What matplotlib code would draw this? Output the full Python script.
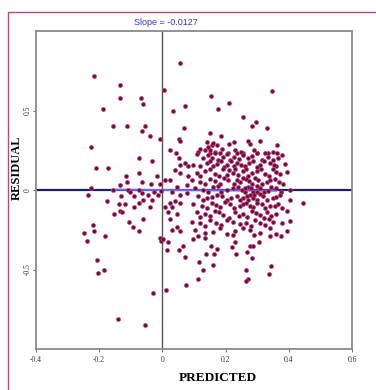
import numpy as np
import matplotlib
matplotlib.use("Agg")
import matplotlib.pyplot as plt
from matplotlib.patches import Rectangle

# scattered points left of the main cluster (predicted, residual)
left_points = [
    (-0.215, 0.72), (-0.135, 0.66), (-0.135, 0.58), (-0.069, 0.58), (-0.061, 0.54),
    (-0.189, 0.51), (-0.156, 0.40), (-0.112, 0.40), (-0.054, 0.40), (-0.065, 0.37),
    (-0.038, 0.34), (-0.009, 0.32), (-0.225, 0.27), (-0.073, 0.20), (-0.034, 0.18),
    (-0.211, 0.14), (-0.173, 0.14), (-0.073, 0.11), (-0.115, 0.09), (-0.016, 0.09),
    (-0.113, 0.05), (-0.064, 0.05), (-0.134, 0.03), (-0.036, 0.04), (-0.008, 0.04),
    (-0.225, 0.01), (-0.155, 0.00), (-0.110, 0.00), (-0.073, 0.00), (-0.103, -0.01),
    (-0.004, -0.005), (-0.235, -0.03), (-0.066, -0.02), (-0.045, -0.03), (-0.027, -0.01),
    (-0.131, -0.04), (-0.089, -0.04), (-0.013, -0.03), (-0.176, -0.07), (-0.060, -0.06),
    (-0.075, -0.08), (-0.034, -0.06), (-0.137, -0.09), (-0.118, -0.09), (-0.134, -0.13),
    (-0.127, -0.14), (-0.152, -0.15), (-0.089, -0.11), (-0.039, -0.11), (-0.060, -0.18),
    (-0.106, -0.20), (-0.092, -0.23), (-0.073, -0.26), (-0.219, -0.22), (-0.215, -0.26),
    (-0.247, -0.27), (-0.183, -0.29), (-0.008, -0.30), (-0.238, -0.32), (-0.208, -0.44),
    (-0.203, -0.52), (-0.185, -0.50), (-0.005, -0.32), (-0.029, -0.65), (-0.140, -0.81),
    (-0.055, -0.85),
]

# points just right of zero
mid_points = [
    (0.056, 0.80), (0.006, 0.63), (0.035, 0.50), (0.072, 0.53), (0.067, 0.39),
    (0.052, 0.32), (0.056, 0.31), (0.025, 0.25), (0.043, 0.23), (0.053, 0.20),
    (0.056, 0.16), (0.072, 0.17), (0.082, 0.15), (0.040, 0.125), (0.056, 0.11),
    (0.082, 0.09), (0.024, 0.06), (0.008, 0.06), (0.045, 0.02), (0.077, 0.03),
    (0.029, -0.01), (0.056, -0.03), (0.077, -0.02), (0.040, -0.07), (0.024, -0.08),
    (0.056, -0.08), (0.008, -0.11), (0.029, -0.11), (0.019, -0.14), (0.045, -0.15),
    (0.024, -0.18), (0.045, -0.23), (0.029, -0.25), (0.056, -0.26), (0.001, -0.31),
    (0.019, -0.33), (0.016, -0.38), (0.054, -0.38), (0.064, -0.35), (0.072, -0.42),
    (0.075, -0.60), (0.010, -0.63),
]

# upper part of the main cluster
upper_points = [
    (0.347, 0.62), (0.154, 0.59), (0.212, 0.55), (0.177, 0.51), (0.254, 0.46),
    (0.295, 0.43), (0.283, 0.40), (0.332, 0.39), (0.152, 0.36), (0.185, 0.34),
    (0.309, 0.31), (0.141, 0.30), (0.157, 0.28), (0.212, 0.29), (0.228, 0.30),
    (0.272, 0.31), (0.277, 0.29), (0.362, 0.28), (0.114, 0.24), (0.135, 0.25),
    (0.172, 0.28), (0.150, 0.23), (0.207, 0.23), (0.254, 0.23), (0.298, 0.23),
    (0.333, 0.23), (0.364, 0.23), (0.12, 0.26), (0.15, 0.25), (0.165, 0.24),
    (0.19, 0.26), (0.23, 0.25), (0.25, 0.24), (0.29, 0.25), (0.35, 0.24),
    (0.38, 0.22), (0.145, 0.27), (0.16, 0.295),
]

# dense centre of the cluster
cluster_points = [
    (0.145, 0.22), (0.156, 0.20), (0.166, 0.23), (0.193, 0.21), (0.214, 0.19),
    (0.256, 0.22), (0.272, 0.20), (0.298, 0.23), (0.314, 0.19), (0.335, 0.21),
    (0.366, 0.20), (0.128, 0.20), (0.175, 0.19), (0.183, 0.235), (0.205, 0.225),
    (0.228, 0.21), (0.243, 0.195), (0.285, 0.215), (0.325, 0.235), (0.35, 0.19),
    (0.11, 0.225), (0.237, 0.23),
    (0.098, 0.16), (0.140, 0.17), (0.161, 0.15), (0.187, 0.18), (0.203, 0.16),
    (0.235, 0.17), (0.261, 0.15), (0.288, 0.18), (0.309, 0.16), (0.340, 0.17),
    (0.361, 0.15), (0.388, 0.165), (0.12, 0.15), (0.15, 0.185), (0.172, 0.165),
    (0.195, 0.145), (0.218, 0.18), (0.248, 0.155), (0.275, 0.17), (0.30, 0.145),
    (0.322, 0.18), (0.352, 0.155), (0.225, 0.15),
    (0.108, 0.11), (0.135, 0.12), (0.166, 0.10), (0.193, 0.13), (0.224, 0.11),
    (0.256, 0.12), (0.272, 0.09), (0.298, 0.12), (0.324, 0.10), (0.351, 0.13),
    (0.372, 0.10), (0.393, 0.115), (0.12, 0.09), (0.15, 0.135), (0.18, 0.085),
    (0.21, 0.125), (0.24, 0.095), (0.263, 0.135), (0.285, 0.105), (0.312, 0.135),
    (0.338, 0.09), (0.36, 0.115), (0.23, 0.135), (0.205, 0.095),
    (0.093, 0.06), (0.119, 0.05), (0.150, 0.07), (0.182, 0.04), (0.208, 0.06),
    (0.245, 0.05), (0.266, 0.07), (0.282, 0.04), (0.303, 0.06), (0.330, 0.05),
    (0.356, 0.07), (0.382, 0.04), (0.135, 0.04), (0.165, 0.055), (0.195, 0.075),
    (0.225, 0.04), (0.255, 0.075), (0.275, 0.055), (0.292, 0.075), (0.315, 0.035),
    (0.34, 0.065), (0.368, 0.05), (0.235, 0.065),
    (0.103, 0.01), (0.130, 0.00), (0.161, 0.02), (0.187, -0.01), (0.224, 0.01),
    (0.251, 0.00), (0.272, 0.02), (0.288, -0.01), (0.309, 0.01), (0.335, -0.005),
    (0.361, 0.015), (0.404, 0.00), (0.145, -0.01), (0.175, 0.025), (0.205, 0.00),
    (0.238, 0.02), (0.262, -0.015), (0.28, 0.01), (0.298, 0.025), (0.32, -0.01),
    (0.345, 0.02), (0.375, -0.01), (0.26, 0.015), (0.30, -0.015),
    (0.114, -0.04), (0.140, -0.05), (0.172, -0.03), (0.203, -0.06), (0.235, -0.04),
    (0.256, -0.05), (0.277, -0.03), (0.298, -0.06), (0.319, -0.04), (0.351, -0.05),
    (0.372, -0.03), (0.404, -0.06), (0.128, -0.065), (0.158, -0.045), (0.19, -0.035),
    (0.218, -0.05), (0.245, -0.065), (0.267, -0.04), (0.288, -0.05), (0.308, -0.025),
    (0.33, -0.06), (0.36, -0.045), (0.27, -0.065), (0.29, -0.03),
    (0.098, -0.09), (0.124, -0.10), (0.156, -0.08), (0.182, -0.11), (0.214, -0.09),
    (0.245, -0.10), (0.266, -0.08), (0.288, -0.11), (0.314, -0.09), (0.340, -0.10),
    (0.366, -0.085), (0.446, -0.08), (0.14, -0.115), (0.17, -0.095), (0.198, -0.075),
    (0.228, -0.115), (0.255, -0.085), (0.278, -0.10), (0.30, -0.08), (0.326, -0.115),
    (0.355, -0.10), (0.38, -0.115),
    (0.108, -0.14), (0.135, -0.15), (0.166, -0.13), (0.193, -0.16), (0.230, -0.14),
    (0.256, -0.15), (0.282, -0.13), (0.309, -0.16), (0.330, -0.14), (0.361, -0.15),
    (0.393, -0.135), (0.12, -0.17), (0.15, -0.165), (0.18, -0.14), (0.21, -0.175),
    (0.243, -0.165), (0.268, -0.17), (0.295, -0.145), (0.32, -0.175), (0.345, -0.165),
    (0.093, -0.20), (0.119, -0.21), (0.150, -0.19), (0.187, -0.22), (0.224, -0.20),
    (0.266, -0.21), (0.293, -0.19), (0.324, -0.22), (0.351, -0.20), (0.377, -0.21),
    (0.404, -0.195), (0.135, -0.225), (0.17, -0.205), (0.205, -0.19), (0.245, -0.215),
    (0.28, -0.225), (0.31, -0.205), (0.338, -0.185),
    (0.103, -0.25), (0.135, -0.27), (0.182, -0.24), (0.230, -0.26), (0.277, -0.25),
    (0.309, -0.27), (0.340, -0.24), (0.393, -0.26), (0.16, -0.265), (0.205, -0.275),
    (0.255, -0.24), (0.29, -0.28), (0.36, -0.275),
]

# lower tail of the cluster
lower_points = [
    (0.098, -0.31), (0.114, -0.29), (0.135, -0.30), (0.224, -0.28), (0.340, -0.29),
    (0.374, -0.29), (0.153, -0.35), (0.172, -0.37), (0.219, -0.36), (0.230, -0.33),
    (0.138, -0.40), (0.163, -0.40), (0.233, -0.40), (0.277, -0.35), (0.288, -0.35),
    (0.306, -0.33), (0.267, -0.39), (0.283, -0.43), (0.116, -0.45), (0.161, -0.47),
    (0.129, -0.50), (0.264, -0.50), (0.343, -0.48), (0.337, -0.53), (0.114, -0.56),
    (0.270, -0.56), (0.264, -0.57),
]

slope = -0.0127
fit_x = [-0.16, 0.36]

pts = np.array(left_points + mid_points + upper_points + cluster_points + lower_points)
predicted = pts[:, 0]
residual = pts[:, 1]

fig = plt.figure(figsize=(3.76, 3.90), dpi=100, facecolor='white')
ax = fig.add_axes([36 / 376, 1 - 349 / 390, 316 / 376, 318 / 390])

ax.axhline(0, color='#1c1c6a', lw=1.6, zorder=1)
ax.axvline(0, color='#555555', lw=1.0, zorder=1)
fx = np.array(fit_x)
ax.plot(fx, slope * fx, color='#6a6aff', lw=1.4, zorder=2)

ax.scatter(predicted, residual, s=8, color='#6e0a3a', edgecolors='#b8407a',
           linewidths=0.5, zorder=3)

ax.set_xlim(-0.4, 0.6)
ax.set_ylim(-1, 1)
ax.set_xticks([-0.4, -0.2, 0, 0.2, 0.4, 0.6])
ax.set_xticklabels(['-0.4', '-0.2', '0', '0.2', '0.4', '0.6'])
ax.set_yticks([-0.5, 0, 0.5])
ax.set_yticklabels(['-0.5', '0', '0.5'], rotation=90, va='center')
ax.tick_params(labelsize=5.5, length=2, width=0.6, colors='#555555', labelcolor='#333333',
               pad=3)
ax.tick_params(axis='y', pad=1)
for lab in ax.get_xticklabels() + ax.get_yticklabels():
    lab.set_family('Liberation Serif')
for sp in ax.spines.values():
    sp.set_color('#8a8a8a')
    sp.set_linewidth(1.3)

fig.text(166 / 376, 1 - 22.5 / 390, 'Slope = -0.0127', color='#3535cc', fontsize=6.5,
         family='Liberation Sans', ha='center', va='center')
fig.text(218 / 376, 1 - 378 / 390, 'PREDICTED', fontsize=9.5, fontweight='bold',
         family='Liberation Serif', ha='center', va='center')
fig.text(17 / 376, 1 - 168 / 390, 'RESIDUAL', fontsize=9, fontweight='bold',
         family='Liberation Serif', ha='center', va='center', rotation=90)

# outer pink frame
fig.patches.append(Rectangle((8 / 376, -0.2), 1.2, 1 - 12 / 390 + 0.2,
                             transform=fig.transFigure, fill=False,
                             edgecolor='#b84a78', lw=1.0))

fig.savefig('out.png', dpi=100, facecolor='white')
